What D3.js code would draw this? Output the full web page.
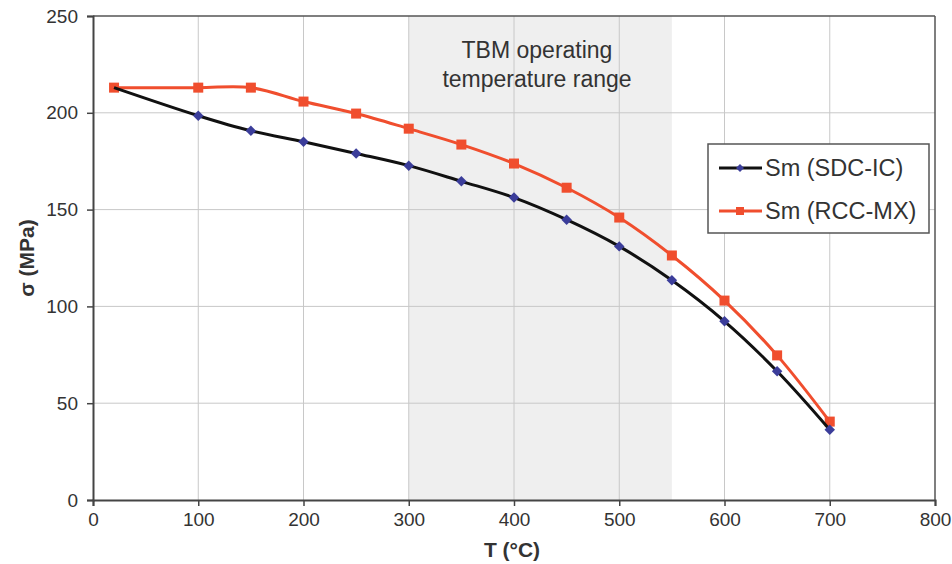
<!DOCTYPE html>
<html>
<head>
<meta charset="utf-8">
<script src="https://cdn.jsdelivr.net/npm/d3@7"></script>
<style>
  body { margin: 0; background: #fff; }
  text { font-family: "Liberation Sans", Arial, sans-serif; }
</style>
</head>
<body>
<div id="vis"></div>
<script>
// values
const temps = [20, 100, 150, 200, 250, 300, 350, 400, 450, 500, 550, 600, 650, 700];
const smSDC = [213, 198.5, 190.7, 185, 179, 172.7, 164.6, 156.2, 144.8, 131, 113.5, 92.3, 66.5, 36.3];
const smRCC = [213, 213, 213, 205.8, 199.6, 191.8, 183.6, 173.8, 161.3, 145.9, 126.3, 103, 74.7, 40.5];
const xTicks = [0, 100, 200, 300, 400, 500, 600, 700, 800];
const yTicks = [0, 50, 100, 150, 200, 250];
const tbmRange = [300, 550];

const width = 952, height = 564;
const m = {left: 93, right: 17, top: 16, bottom: 64};

const svg = d3.select('#vis').append('svg')
  .attr('width', width)
  .attr('height', height);

const x = d3.scaleLinear().domain([0, 800]).range([m.left, width - m.right]);
const y = d3.scaleLinear().domain([0, 250]).range([height - m.bottom, m.top]);

// shaded TBM range
svg.append('rect')
  .attr('x', x(tbmRange[0]))
  .attr('y', y(250))
  .attr('width', x(tbmRange[1]) - x(tbmRange[0]))
  .attr('height', y(0) - y(250))
  .attr('fill', '#efefef');

// grid
svg.append('g').selectAll('line')
  .data(xTicks.slice(1, -1))
  .enter().append('line')
  .attr('x1', d => x(d)).attr('x2', d => x(d))
  .attr('y1', y(0)).attr('y2', y(250))
  .attr('stroke', '#c8c8c8').attr('stroke-width', 1);

svg.append('g').selectAll('line')
  .data(yTicks.slice(1, -1))
  .enter().append('line')
  .attr('x1', x(0)).attr('x2', x(800))
  .attr('y1', d => y(d)).attr('y2', d => y(d))
  .attr('stroke', '#c8c8c8').attr('stroke-width', 1);

// frame top/right
svg.append('line')
  .attr('x1', x(0)).attr('x2', x(800)).attr('y1', y(250)).attr('y2', y(250))
  .attr('stroke', '#555').attr('stroke-width', 1.5);
svg.append('line')
  .attr('x1', x(800)).attr('x2', x(800)).attr('y1', y(250)).attr('y2', y(0))
  .attr('stroke', '#555').attr('stroke-width', 1.5);

// axes
const xAxis = svg.append('g')
  .attr('transform', `translate(0,${y(0)})`)
  .call(d3.axisBottom(x).tickValues(xTicks).tickSize(6).tickPadding(7).tickFormat(d3.format('d')));
const yAxis = svg.append('g')
  .attr('transform', `translate(${x(0)},0)`)
  .call(d3.axisLeft(y).tickValues(yTicks).tickSize(6).tickPadding(9).tickFormat(d3.format('d')));

[xAxis, yAxis].forEach(a => {
  a.select('.domain').attr('stroke', '#444').attr('stroke-width', 2);
  a.selectAll('.tick line').attr('stroke', '#444').attr('stroke-width', 1.5);
  a.selectAll('.tick text')
    .attr('fill', '#333')
    .style('font-size', '19px')
    .style('font-family', '"Liberation Sans", Arial, sans-serif');
});

// axis titles
svg.append('text')
  .attr('x', 512).attr('y', 557)
  .attr('text-anchor', 'middle')
  .style('font-size', '21px').style('font-weight', 'bold')
  .attr('fill', '#333')
  .text('T (°C)');

svg.append('text')
  .attr('transform', `translate(34,${y(125)}) rotate(-90)`)
  .attr('text-anchor', 'middle')
  .style('font-size', '21px').style('font-weight', 'bold')
  .attr('fill', '#333')
  .text('σ (MPa)');

// annotation
svg.append('text')
  .attr('x', 537).attr('y', 58)
  .attr('text-anchor', 'middle')
  .style('font-size', '23px').attr('fill', '#333')
  .text('TBM operating');
svg.append('text')
  .attr('x', 537).attr('y', 87)
  .attr('text-anchor', 'middle')
  .style('font-size', '23px').attr('fill', '#333')
  .text('temperature range');

const line = d3.line()
  .x(d => x(d[0]))
  .y(d => y(d[1]))
  .curve(d3.curveCatmullRom.alpha(0.5));

const sdc = temps.map((t, i) => [t, smSDC[i]]);
const rcc = temps.map((t, i) => [t, smRCC[i]]);

const redCol = '#f04e2e', blueCol = '#3b3d9a';

svg.append('path')
  .datum(rcc)
  .attr('d', line)
  .attr('fill', 'none')
  .attr('stroke', redCol)
  .attr('stroke-width', 3);

svg.append('g').selectAll('rect')
  .data(rcc)
  .enter().append('rect')
  .attr('x', d => x(d[0]) - 5)
  .attr('y', d => y(d[1]) - 5)
  .attr('width', 10).attr('height', 10)
  .attr('fill', redCol);

svg.append('path')
  .datum(sdc)
  .attr('d', line)
  .attr('fill', 'none')
  .attr('stroke', '#111')
  .attr('stroke-width', 3);

const diamond = d3.symbol().type(d3.symbolDiamond2).size(70);
svg.append('g').selectAll('path')
  .data(sdc.slice(1))
  .enter().append('path')
  .attr('transform', d => `translate(${x(d[0])},${y(d[1])})`)
  .attr('d', diamond)
  .attr('fill', blueCol);

// legend
const lg = svg.append('g').attr('transform', 'translate(708,144)');
lg.append('rect')
  .attr('width', 221).attr('height', 89)
  .attr('fill', '#fff').attr('stroke', '#555').attr('stroke-width', 1.5);

const legendItems = [
  {label: 'Sm (SDC-IC)', stroke: '#111', fill: blueCol, shape: 'diamond'},
  {label: 'Sm (RCC-MX)', stroke: redCol, fill: redCol, shape: 'square'}
];
legendItems.forEach((it, i) => {
  const cy = 24 + i * 43;
  lg.append('line')
    .attr('x1', 11).attr('x2', 54).attr('y1', cy).attr('y2', cy)
    .attr('stroke', it.stroke).attr('stroke-width', 3);
  if (it.shape === 'diamond') {
    lg.append('path')
      .attr('transform', `translate(32,${cy})`)
      .attr('d', d3.symbol().type(d3.symbolDiamond2).size(40))
      .attr('fill', it.fill);
  } else {
    lg.append('rect')
      .attr('x', 28).attr('y', cy - 4).attr('width', 8).attr('height', 8)
      .attr('fill', it.fill);
  }
  lg.append('text')
    .attr('x', 57).attr('y', cy + 8)
    .style('font-size', '23.5px').attr('fill', '#333')
    .text(it.label);
});
</script>
</body>
</html>
